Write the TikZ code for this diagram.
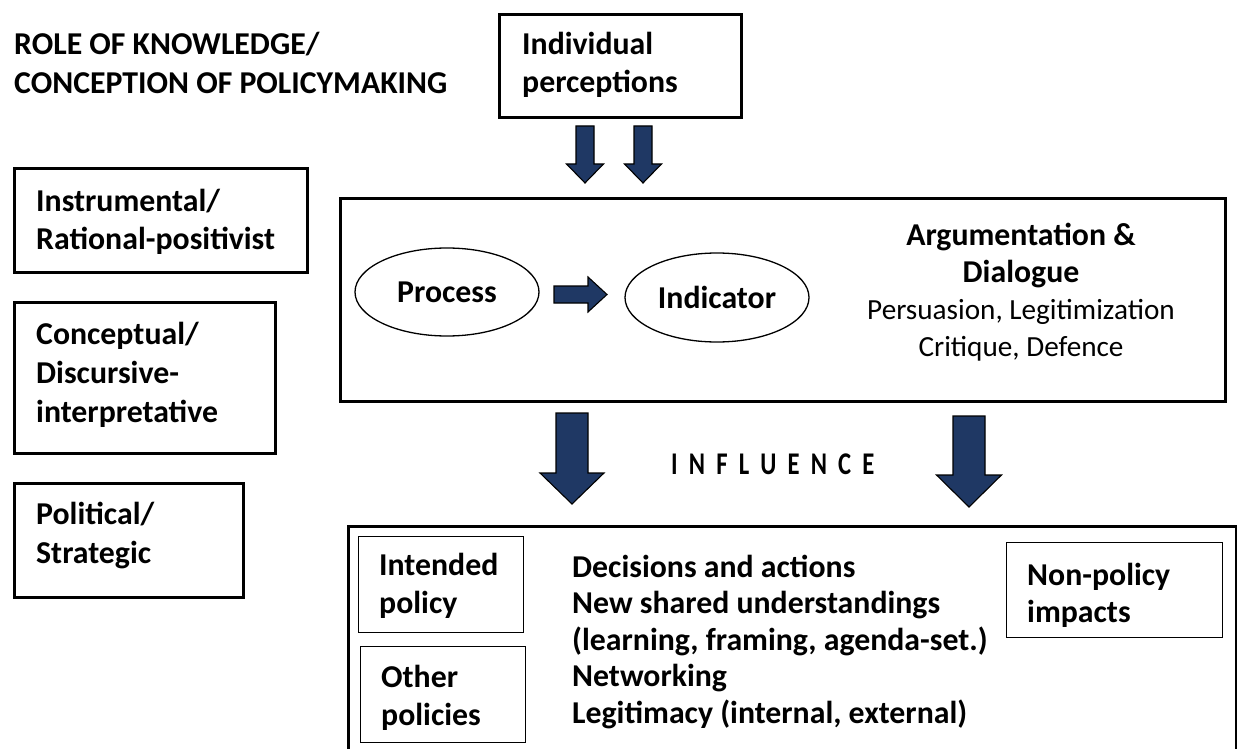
\documentclass[tikz,border=0pt]{standalone}
\usepackage{fontspec}
\usepackage{graphicx}
\setmainfont{Carlito}
\usetikzlibrary{shapes.geometric}
\definecolor{navy}{HTML}{1F3864}
\newcommand\tl[1]{\begin{tabular}[t]{@{}l@{}}#1\end{tabular}}
\newcommand\tlc[1]{\begin{tabular}[t]{@{}c@{}}#1\end{tabular}}
\newcommand\blockdown[6]{%
  \filldraw[blockarrow] (#1-#4,#2) -- (#1+#4,#2) -- (#1+#4,#6) -- (#1+#5,#6) -- (#1,#3) -- (#1-#5,#6) -- (#1-#4,#6) -- cycle;}
\tikzset{
  thickbox/.style={draw, line width=3pt, inner sep=0pt, anchor=north west},
  thinbox/.style={draw, line width=1.4pt, inner sep=0pt, anchor=north west},
  oval/.style={ellipse, draw, line width=1.3pt, inner sep=0pt, font=\bfseries\fontsize{31.8}{38}\selectfont},
  txt/.style={anchor=base west, inner sep=0pt, font=\bfseries\fontsize{31.8}{39}\selectfont},
  txtb/.style={anchor=base west, inner sep=0pt, font=\bfseries\fontsize{31.8}{36.5}\selectfont},
  blockarrow/.style={fill=navy, draw=black, line width=1.1pt, line join=miter}
}
\begin{document}
\begin{tikzpicture}[x=1pt,y=-1pt]
\fill[white] (0,0) rectangle (1237,749);
\useasboundingbox (0,0) rectangle (1237,749);

% boxes
\node[thickbox, minimum width=242pt, minimum height=103pt] (ind) at (498,13) {};
\node[thickbox, minimum width=293pt, minimum height=104pt] (instr) at (13,167) {};
\node[thickbox, minimum width=261pt, minimum height=151pt] (conc) at (13,301) {};
\node[thickbox, minimum width=229pt, minimum height=114pt] (polit) at (13,482) {};
\node[thickbox, minimum width=885pt, minimum height=203pt] (main) at (339,197) {};
\node[thickbox, minimum width=888pt, minimum height=260pt] (outb) at (347,525) {};
\node[thinbox, minimum width=165pt, minimum height=96pt] (intd) at (358,536) {};
\node[thinbox, minimum width=165pt, minimum height=96pt] (othr) at (360,646) {};
\node[thinbox, minimum width=216pt, minimum height=95pt] (nonp) at (1006,542) {};

% ellipses
\node[oval, minimum width=184pt, minimum height=88pt] (proc) at (447,292) {Process};
\node[oval, minimum width=184pt, minimum height=89pt] (indic) at (717,297.5) {Indicator};

% texts
\node[txt] (head) at (14,55) {\tl{ROLE OF KNOWLEDGE/\\CONCEPTION OF POLICYMAKING}};
\node[txt, font=\bfseries\fontsize{31.8}{38}\selectfont] (indt) at (522,55) {\tl{Individual\\perceptions}};
\node[txt] (instrt) at (36,211) {\tl{Instrumental/\\Rational-positivist}};
\node[txt] (conct) at (36,344) {\tl{Conceptual/\\Discursive-\\interpretative}};
\node[txt] (politt) at (36,524) {\tl{Political/\\Strategic}};
\node[anchor=base, inner sep=0pt, font=\fontsize{29.2}{37}\selectfont] (argt) at (1021,245)
  {\tlc{\fontsize{31.8}{37}\selectfont\bfseries Argumentation \&\\\fontsize{31.8}{37}\selectfont\bfseries Dialogue\\Persuasion, Legitimization\\Critique, Defence}};
\node[anchor=base west, inner sep=0pt, font=\bfseries\fontsize{31.6}{36}\selectfont] (infl) at (671,474)
  {\scalebox{0.78}[1]{\spaceskip=14.3pt I N F L U E N C E}};
\node[txtb] (midt) at (572,577) {\tl{Decisions and actions\\New shared understandings\\(learning, framing, agenda-set.)\\Networking\\Legitimacy (internal, external)}};
\node[txt, font=\bfseries\fontsize{31.8}{38}\selectfont] (intdt) at (379,575) {\tl{Intended\\policy}};
\node[txt, font=\bfseries\fontsize{31.8}{38}\selectfont] (othrt) at (381,687) {\tl{Other\\policies}};
\node[txt, font=\bfseries\fontsize{31.8}{37}\selectfont] (nonpt) at (1027,585) {\tl{Non-policy\\impacts}};

% block arrows
\blockdown{585}{126}{183}{9}{18.5}{164}
\blockdown{643}{126}{183}{9}{18.5}{164}
\blockdown{572}{413}{504}{16}{32}{473}
\blockdown{969}{416}{507}{16}{32.5}{475}
\filldraw[blockarrow] (554,286) -- (588,286) -- (588,277) -- (607,294.5) -- (588,312) -- (588,303) -- (554,303) -- cycle;
\end{tikzpicture}
\end{document}
